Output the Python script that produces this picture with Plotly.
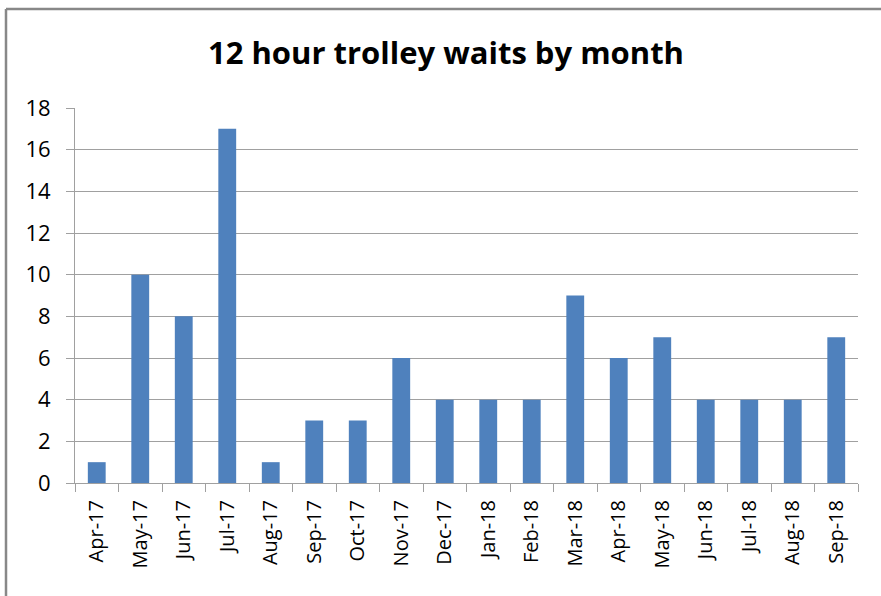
import plotly.graph_objects as go

months = ["Apr-17", "May-17", "Jun-17", "Jul-17", "Aug-17", "Sep-17", "Oct-17", "Nov-17",
          "Dec-17", "Jan-18", "Feb-18", "Mar-18", "Apr-18", "May-18", "Jun-18", "Jul-18",
          "Aug-18", "Sep-18"]
waits = [1, 10, 8, 17, 1, 3, 3, 6, 4, 4, 4, 9, 6, 7, 4, 4, 4, 7]
y_ticks = [0, 2, 4, 6, 8, 10, 12, 14, 16, 18]

W, H = 881, 596
L, R, T, B = 75, 23, 108, 113
pw, ph = W - L - R, H - T - B

fig = go.Figure(go.Bar(x=months, y=waits, marker=dict(color="#4F81BD", line=dict(width=0))))

FONT = "Open Sans, Noto Sans, sans-serif"
grid = "#a0a0a0"

fig.update_layout(
    width=W, height=H,
    margin=dict(l=L, r=R, t=T, b=B, autoexpand=False),
    paper_bgcolor="white", plot_bgcolor="white",
    bargap=0.59,
    showlegend=False,
    title=dict(text="<b>12 hour trolley waits by month</b>", x=(446 / W), xanchor="center",
               y=1 - 53 / H, yanchor="middle",
               font=dict(family=FONT, size=31, color="black")),
    font=dict(family=FONT, size=22, color="black"),
    xaxis=dict(type="category", tickangle=-90, showgrid=False,
               showline=True, linecolor=grid, linewidth=1,
               ticks="outside", tickson="boundaries", ticklen=8, tickcolor=grid,
               tickfont=dict(size=20), ticklabelstandoff=8),
    yaxis=dict(range=[0, 18], tickvals=y_ticks, showgrid=True, gridcolor=grid, gridwidth=1,
               showline=True, linecolor=grid, linewidth=1, zeroline=False,
               ticks="outside", ticklen=8, tickcolor=grid,
               tickfont=dict(size=22), ticklabelstandoff=11),
    shapes=[
        dict(type="line", xref="paper", yref="paper",
             x0=(6 - L) / pw, x1=(6 - L) / pw, y0=1 + (T - 9) / ph, y1=-(B + 20) / ph,
             line=dict(color="#888888", width=2.5)),
        dict(type="line", xref="paper", yref="paper",
             x0=(6 - L) / pw, x1=1 + (R + 20) / pw, y0=1 + (T - 9) / ph, y1=1 + (T - 9) / ph,
             line=dict(color="#888888", width=2.5)),
    ],
)

fig.write_html("out.html", config={"displayModeBar": False},
               post_script="document.body.style.margin='0';document.body.style.overflow='hidden';")
